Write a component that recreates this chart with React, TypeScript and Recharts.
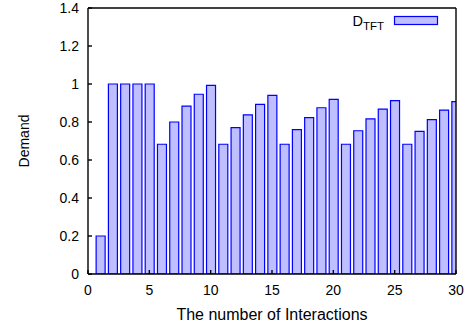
import React from 'react';
import {
  BarChart,
  Bar,
  XAxis,
  YAxis,
  Legend,
  Label,
} from 'recharts';

const interactions = [
  1, 2, 3, 4, 5, 6, 7, 8, 9, 10,
  11, 12, 13, 14, 15, 16, 17, 18, 19, 20,
  21, 22, 23, 24, 25, 26, 27, 28, 29, 30,
];

const demand = [
  0.2, 1.0, 1.0, 1.0, 1.0, 0.683, 0.8, 0.884, 0.946, 0.993,
  0.683, 0.77, 0.838, 0.893, 0.94, 0.683, 0.76, 0.823, 0.875, 0.919,
  0.683, 0.754, 0.816, 0.868, 0.912, 0.683, 0.751, 0.812, 0.863, 0.907,
];

const xTicks = [0, 5, 10, 15, 20, 25, 30];
const yTicks = [0, 0.2, 0.4, 0.6, 0.8, 1, 1.2, 1.4];

const data = interactions.map((x, i) => ({ x, demand: demand[i] }));

const FONT = '"Liberation Sans", Arial, Helvetica, sans-serif';
const BAR_FILL = '#bfbfff';
const BAR_STROKE = '#0000ff';
const AXIS = { stroke: '#000', strokeWidth: 1.4 };

function LegendBox() {
  return (
    <svg width={110} height={26} style={{ display: 'block' }}>
      <text x={12.5} y={17.5} fontFamily={FONT} fontSize={14.5} fill="#000">
        D
        <tspan dy={4} fontSize={11.5}>TFT</tspan>
      </text>
      <rect x={54.5} y={8.5} width={43} height={8} fill={BAR_FILL} stroke={BAR_STROKE} strokeWidth={1.2} />
    </svg>
  );
}

export default function App() {
  const tickStyle = { fontSize: 14, fill: '#000', fontFamily: FONT };
  return (
    <div style={{ position: 'absolute', left: 0, top: 0, width: 472, height: 331, background: '#fff' }}>
      <BarChart
        width={472}
        height={331}
        data={data}
        margin={{ top: 7, right: 15, bottom: 0, left: 0 }}
      >
        <XAxis
          dataKey="x"
          type="number"
          domain={[0, 30]}
          ticks={xTicks}
          allowDataOverflow
          height={57}
          tickSize={-4}
          tickMargin={15}
          tick={tickStyle}
          tickLine={AXIS}
          axisLine={AXIS}
        >
          <Label
            value="The number of Interactions"
            position="insideBottom"
            offset={11}
            style={{ fontSize: 16, fill: '#000', fontFamily: FONT }}
          />
        </XAxis>
        <XAxis
          xAxisId="top"
          orientation="top"
          type="number"
          domain={[0, 30]}
          ticks={xTicks}
          allowDataOverflow
          height={1}
          tick={false}
          tickSize={-4}
          tickLine={AXIS}
          axisLine={AXIS}
        />
        <YAxis
          type="number"
          domain={[0, 1.4]}
          ticks={yTicks}
          allowDataOverflow
          width={88}
          tickSize={-4}
          tickMargin={13}
          tick={tickStyle}
          tickLine={AXIS}
          axisLine={AXIS}
        >
          <Label
            value="Demand"
            position="insideLeft"
            angle={-90}
            offset={24}
            style={{ fontSize: 14, fill: '#000', fontFamily: FONT, textAnchor: 'middle' }}
          />
        </YAxis>
        <YAxis
          yAxisId="right"
          orientation="right"
          type="number"
          domain={[0, 1.4]}
          ticks={yTicks}
          allowDataOverflow
          width={1}
          tick={false}
          tickSize={-4}
          tickLine={AXIS}
          axisLine={AXIS}
        />
        <Legend
          layout="horizontal"
          verticalAlign="middle"
          align="center"
          wrapperStyle={{ position: 'absolute', left: 340, top: 8, width: 110, height: 26 }}
          content={() => <LegendBox />}
        />
        <Bar
          dataKey="demand"
          name="D_TFT"
          barSize={9}
          fill={BAR_FILL}
          stroke={BAR_STROKE}
          strokeWidth={1.2}
          isAnimationActive={false}
        />
      </BarChart>
    </div>
  );
}
